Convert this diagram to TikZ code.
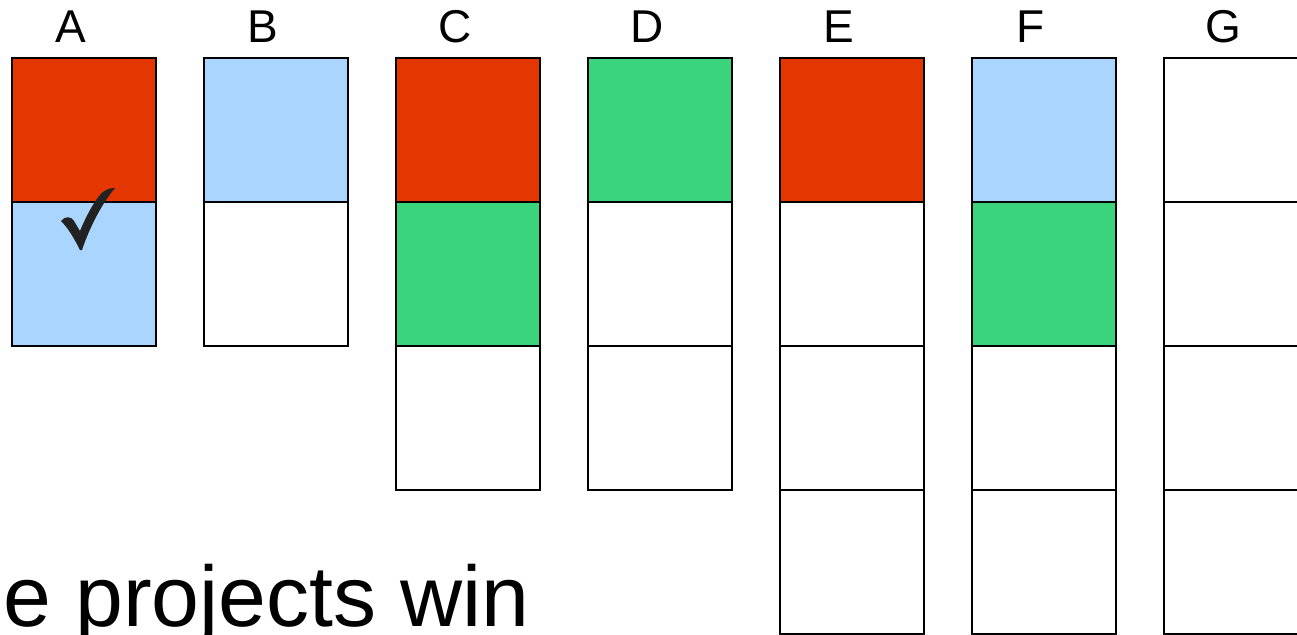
\documentclass[tikz,border=0pt]{standalone}
\usepackage{fontspec}
\setmainfont{Liberation Sans}
\definecolor{cred}{RGB}{227,54,0}
\definecolor{cblue}{RGB}{169,213,255}
\definecolor{cgreen}{RGB}{58,212,124}
\definecolor{ccheck}{RGB}{34,34,34}
\begin{document}
\begin{tikzpicture}[x=1pt,y=-1pt,
  cell/.style={draw=black, line width=1.8pt, minimum width=144pt, minimum height=144pt, inner sep=0pt, outer sep=0pt, anchor=north west},
  lbl/.style={font=\fontsize{46}{46}\selectfont, anchor=base, inner sep=0pt},
  bigtext/.style={font=\fontsize{86}{86}\selectfont, anchor=base west, inner sep=0pt}]
\useasboundingbox (0,0) rectangle (1297,634);
\clip (0,0) rectangle (1297,634);
\fill[white] (0,0) rectangle (1297,634);
\foreach \c/\lab/\fills in {0/A/{cred,cblue},1/B/{cblue,white},2/C/{cred,cgreen,white},3/D/{cgreen,white,white},4/E/{cred,white,white,white},5/F/{cblue,cgreen,white,white},6/G/{white,white,white,white}} {
  \node[lbl] (lbl\lab) at ({12+192*\c+59},43) {\lab};
  \foreach \f [count=\i from 1] in \fills {
    \node[cell, fill=\f] (\lab\i) at ({12+192*\c}, {58+144*(\i-1)}) {};
  }
}
\fill[ccheck] (61,221) .. controls (65,216) and (71,216) .. (74,221) -- (80,231)
  .. controls (87,214) and (96,198) .. (103,192) .. controls (107,189) and (111,188) .. (115,188)
  .. controls (103,202) and (90,226) .. (82,250) -- (80,250)
  .. controls (74,238) and (68,228) .. (61,221) -- cycle;
\node[bigtext] (title) at (3.5,626) {e projects win};
\end{tikzpicture}
\end{document}
